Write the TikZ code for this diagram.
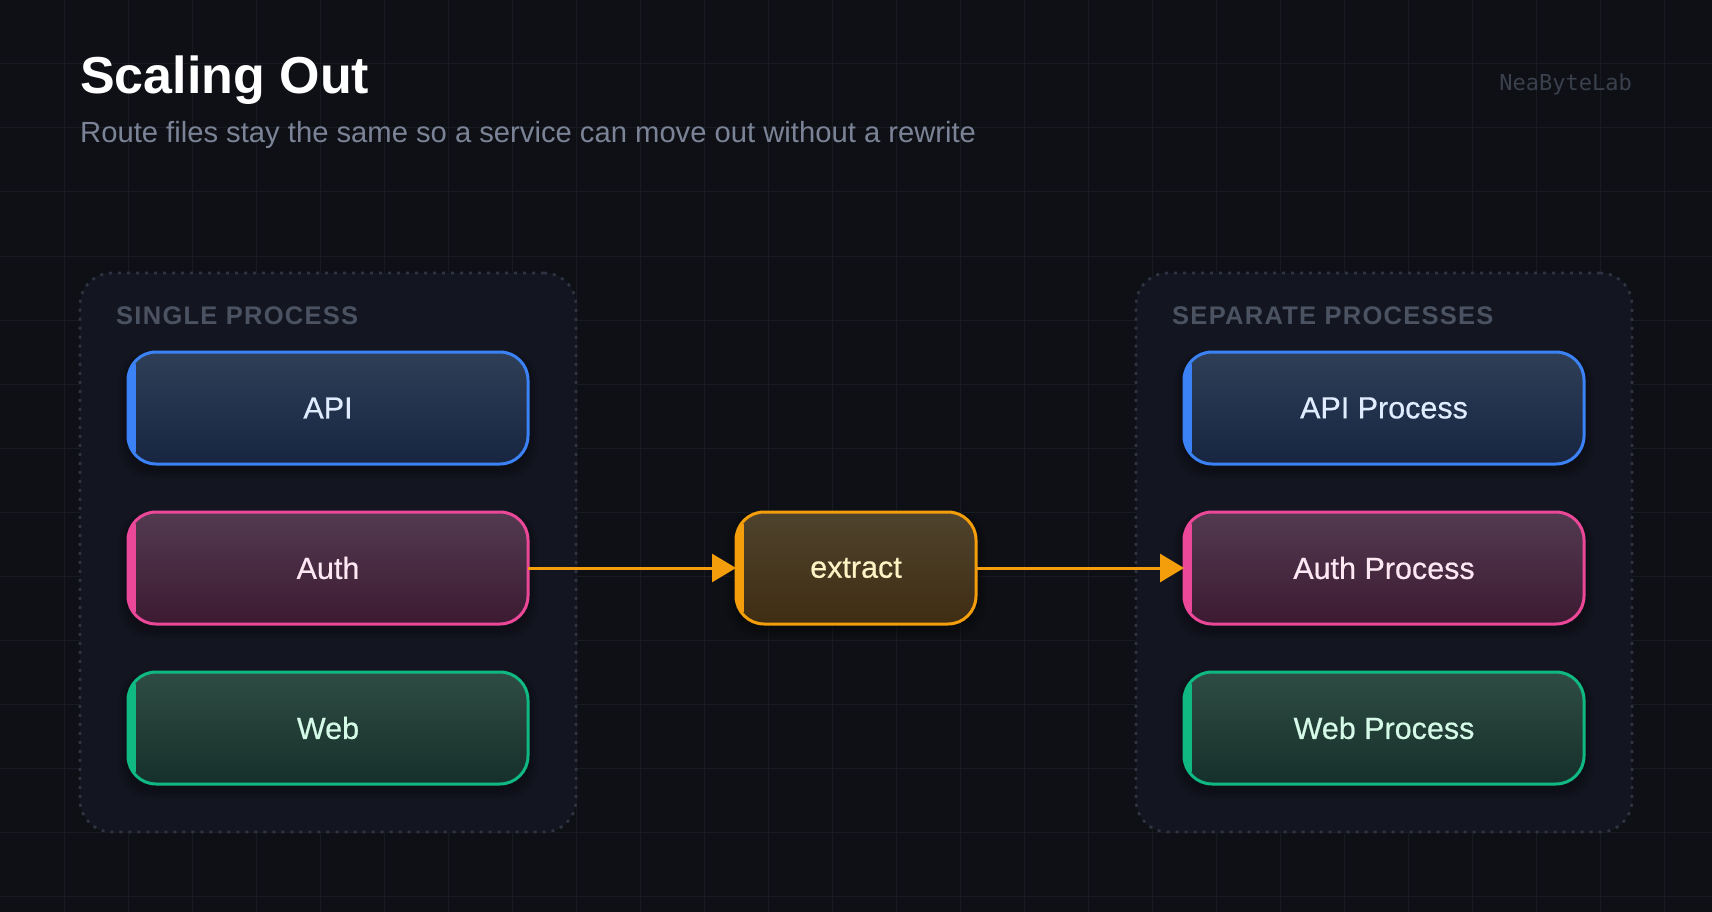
\documentclass[tikz,border=0pt]{standalone}
\usepackage{fontspec}
\setmainfont{Liberation Sans}
\newfontfamily\brandfont{DejaVu Sans Mono}
\newfontfamily\boxfont[FakeBold=0.6]{Liberation Sans}
\usetikzlibrary{arrows.meta,shadings}
\definecolor{bg}{HTML}{0E1016}
\definecolor{gridc}{HTML}{181B22}
\definecolor{contfill}{HTML}{131620}
\definecolor{contline}{HTML}{2F3442}
\definecolor{lblc}{HTML}{4B5261}
\definecolor{subc}{HTML}{7B8396}
\definecolor{brandc}{HTML}{3A404C}
\definecolor{apiline}{HTML}{3B82F6}
\definecolor{apitop}{HTML}{2F3F57}
\definecolor{apibot}{HTML}{172541}
\definecolor{apitxt}{HTML}{E0ECFF}
\definecolor{authline}{HTML}{EC4899}
\definecolor{authtop}{HTML}{533A50}
\definecolor{authbot}{HTML}{3C1A32}
\definecolor{authtxt}{HTML}{FDE7F3}
\definecolor{webline}{HTML}{10B981}
\definecolor{webtop}{HTML}{2F4C44}
\definecolor{webbot}{HTML}{15302A}
\definecolor{webtxt}{HTML}{D5FBE8}
\definecolor{extline}{HTML}{F59E0B}
\definecolor{exttop}{HTML}{4F432D}
\definecolor{extbot}{HTML}{3F2D13}
\definecolor{exttxt}{HTML}{FDF3C4}
\tikzset{
  pbox/.style={draw=#1line, top color=#1top, bottom color=#1bot, text=#1txt,
    line width=3pt, rounded corners=28pt, minimum height=112pt, inner sep=0pt,
    outer sep=0pt, font=\boxfont\fontsize{30.5}{36}\selectfont},
  container/.style={fill=contfill, draw=contline, line width=2.6pt,
    dash pattern=on 3pt off 6pt, rounded corners=32pt,
    minimum width=496pt, minimum height=559pt, inner sep=0pt, outer sep=0pt},
  grouplabel/.style={text=lblc, inner sep=0pt, anchor=base west,
    font=\fontsize{25.5}{30}\selectfont\bfseries\addfontfeature{LetterSpace=5}},
  flow/.style={draw=extline, line width=3pt, -{Triangle[length=24pt,width=28pt]}},
}
\newcommand\procbox[6]{%
  \foreach \k in {1,...,5}{%
    \fill[black,opacity=0.06,rounded corners=30pt] (#2-#4/2-2*\k,#3-56-\k+4) rectangle (#2+#4/2+2*\k,#3+56+2*\k+4);}
  \node[pbox=#5, minimum width=#4pt] (#1) at (#2,#3) {#6};
  \begin{scope}
    \clip[rounded corners=28pt] (#1.north west) rectangle (#1.south east);
    \fill[#5line] ([yshift=-12pt]#1.north west) rectangle ([xshift=8pt,yshift=12pt]#1.south west);
  \end{scope}}
\begin{document}
\begin{tikzpicture}[x=1pt,y=-1pt]
\fill[bg] (0,0) rectangle (1712,912);
\useasboundingbox (0,0) rectangle (1712,912);
\foreach \i in {64,128,...,1664} \draw[gridc,line width=1pt] (\i,0) -- (\i,912);
\foreach \j in {64,128,...,896} \draw[gridc,line width=1pt] (0,\j) -- (1712,\j);

\node[anchor=base west,inner sep=0pt,text=white,font=\fontsize{52}{60}\selectfont\bfseries] (title) at (80,94) {Scaling Out};
\node[anchor=base west,inner sep=0pt,text=subc,font=\fontsize{29.2}{34}\selectfont] (subtitle) at (80,143) {Route files stay the same so a service can move out without a rewrite};
\node[anchor=base east,inner sep=0pt,text=brandc,font=\brandfont\fontsize{22}{26}\selectfont] (brand) at (1632,91) {NeaByteLab};

\node[container] (leftc) at (328,552.5) {};
\node[container] (rightc) at (1384,552.5) {};
\node[grouplabel] (leftlbl) at (116,324) {SINGLE PROCESS};
\node[grouplabel] (rightlbl) at (1172,324) {SEPARATE PROCESSES};

\procbox{api}{328}{408}{400}{api}{API}
\procbox{auth}{328}{568}{400}{auth}{Auth}
\procbox{web}{328}{728}{400}{web}{Web}
\procbox{extract}{856}{568}{240}{ext}{extract}
\procbox{apip}{1384}{408}{400}{api}{API Process}
\procbox{authp}{1384}{568}{400}{auth}{Auth Process}
\procbox{webp}{1384}{728}{400}{web}{Web Process}

\draw[flow] (auth.east) -- (extract.west);
\draw[flow] (extract.east) -- (authp.west);
\end{tikzpicture}
\end{document}
